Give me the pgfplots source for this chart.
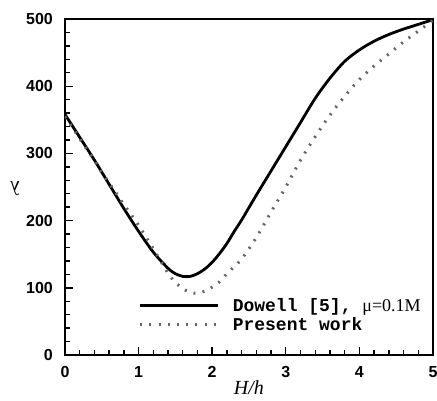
\documentclass[border=0pt]{standalone}
\usepackage{fontspec}
\setmainfont{Liberation Serif}
\setsansfont{Liberation Sans}
\setmonofont{Liberation Mono}
\usepackage{pgfplots}
\pgfplotsset{compat=1.18}
\newcommand{\tickfont}{\fontsize{16pt}{16pt}\selectfont\sffamily\bfseries}
\pgfplotstableread{
x y
0 358
0.2 324
0.4 290
0.6 254
0.8 218
1.0 184
1.2 153
1.4 129
1.5 121
1.6 117
1.7 117
1.8 121
1.9 128
2.0 138
2.1 151
2.2 166
2.3 184
2.4 201
2.6 238
2.8 274
3.0 310
3.2 346
3.4 382
3.6 412
3.8 437
4.0 454
4.2 467
4.4 477
4.6 485
4.8 492
5.0 499
}\dowell
\pgfplotstableread{
x y
0 355
0.2 322
0.4 289
0.6 256
0.8 224
1.0 193
1.2 158
1.4 122
1.5 108
1.6 99
1.7 93
1.8 92
1.9 95
2.0 101
2.1 109
2.2 121
2.4 143
2.6 175
2.8 213
3.0 250
3.2 290
3.4 325
3.6 357
3.8 385
4.0 410
4.2 430
4.4 448
4.6 466
4.8 482
5.0 498
}\present
\begin{document}
\begin{tikzpicture}[x=1pt,y=1pt]
\begin{axis}[
  at={(0,0)}, anchor=south west,
  scale only axis, width=368pt, height=336pt,
  xmin=0, xmax=5, ymin=0, ymax=500,
  xtick={0,1,2,3,4,5}, ytick={0,100,200,300,400,500},
  xticklabels={0,1,2,3,4,5}, yticklabels={0,100,200,300,400,500},
  minor x tick num=4, minor y tick num=4,
  tick align=inside, xtick pos=bottom, ytick pos=left,
  major tick length=8pt, minor tick length=5pt,
  axis line style={line width=1.6pt},
  every tick/.style={black, line width=1.4pt},
  xticklabel style={font=\tickfont, anchor=center, yshift=-17pt},
  yticklabel style={font=\tickfont, anchor=east, inner sep=0pt, xshift=-12pt},
  xlabel={\textit{H/h}},
  ylabel={λ},
  xlabel style={font=\fontsize{20}{20}\selectfont, inner sep=0pt, at={(axis description cs:0.5,0)}, anchor=center, yshift=-33pt},
  ylabel style={font=\fontsize{20}{20}\selectfont, inner sep=0pt, at={([xshift=-50pt,yshift=-2pt]axis description cs:0,0.5)}, anchor=center, rotate=90},
  legend style={draw=none, fill=none, at={(axis cs:1.0,88)}, anchor=north west,
    font=\fontsize{18}{18}\selectfont, inner sep=0pt, row sep=1pt, column sep=0pt,
    nodes={inner sep=2pt}},
  legend cell align=left,
  legend image code/.code={\draw[#1] (0pt,0pt) -- (78pt,0pt);},
]
\addplot[black, line width=2.8pt, smooth] table {\dowell};
\addlegendentry{\hspace{11pt}{\ttfamily\bfseries Dowell [5], }μ=0.1M}
\addplot[black!60, line width=3pt, dash pattern=on 2pt off 7.2pt, smooth] table {\present};
\addlegendentry{\hspace{11pt}{\ttfamily\bfseries Present work}}
\end{axis}
\pgfresetboundingbox
\path[use as bounding box] (-65,-45) rectangle (372,355);
\end{tikzpicture}
\end{document}
